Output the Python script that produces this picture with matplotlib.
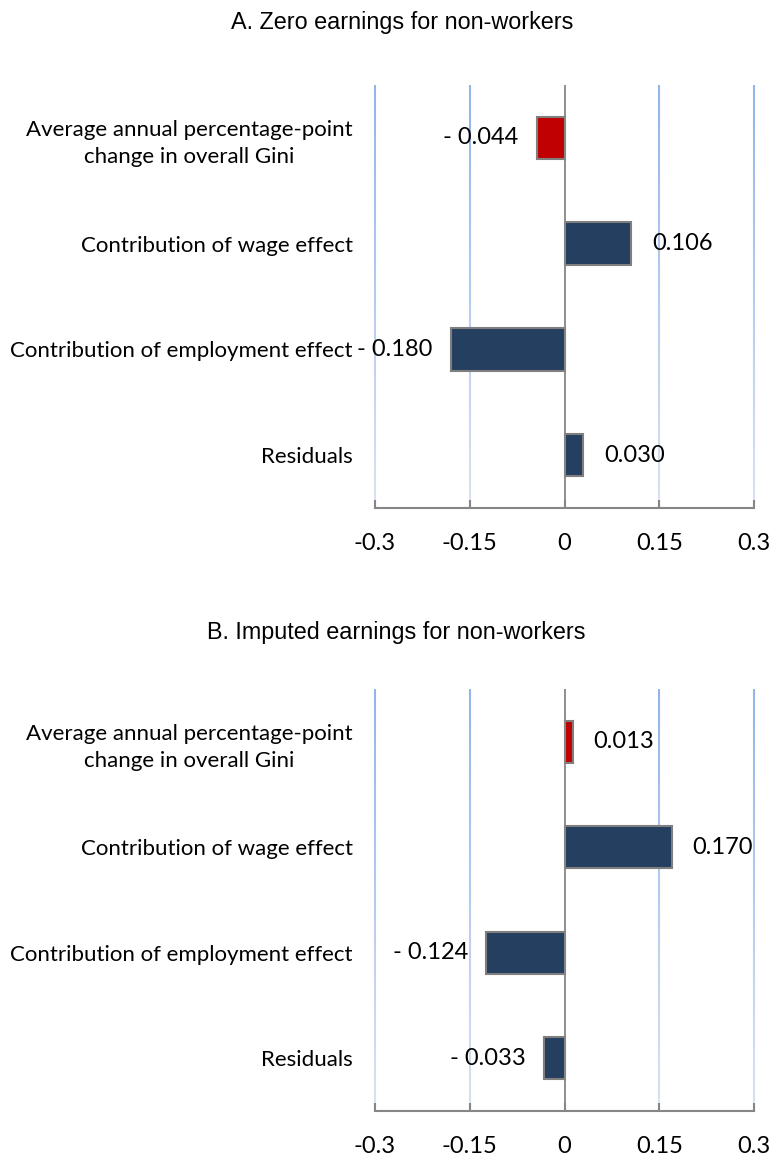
import matplotlib.pyplot as plt
from matplotlib.colors import to_rgb
import numpy as np

# data
categories = ["Average annual percentage-point\nchange in overall Gini",
              "Contribution of wage effect",
              "Contribution of employment effect",
              "Residuals"]
zero_earnings = [-0.044, 0.106, -0.180, 0.030]
imputed_earnings = [0.013, 0.170, -0.124, -0.033]
panel_titles = ["A. Zero earnings for non-workers", "B. Imputed earnings for non-workers"]
xticks = [-0.3, -0.15, 0, 0.15, 0.3]
xtick_labels = ["-0.3", "-0.15", "0", "0.15", "0.3"]

NAVY = "#253f60"
RED = "#c00000"
EDGE = "#7f7f7f"
AXIS = "#868686"
GRID_TOP = "#93b5e8"
GRID_BOT = "#d9e3f3"
LABEL_FONT = ["Lato", "DejaVu Sans"]
TITLE_FONT = ["Liberation Sans", "DejaVu Sans"]


def fmt(v):
    # Excel-ish format with a space after the minus
    return ("- %.3f" % abs(v)) if v < 0 else "%.3f" % v


def draw_panel(ax, values):
    n = len(categories)
    y = np.arange(n)
    colors = [RED] + [NAVY] * (n - 1)
    ax.barh(y, values, height=0.4, color=colors, edgecolor=EDGE, linewidth=1.5, zorder=3)
    ax.set_ylim(n - 0.5, -0.5)
    ax.set_xlim(-0.3, 0.3)

    # gradient gridlines (blue at top, paler towards bottom)
    c0, c1 = np.array(to_rgb(GRID_TOP)), np.array(to_rgb(GRID_BOT))
    steps = 40
    for gx in xticks:
        if gx == 0:
            continue
        for i in range(steps):
            t = i / steps
            col = c0 + (c1 - c0) * t
            ax.plot([gx, gx], [1 - t, 1 - (i + 1) / steps], color=col, lw=1.5,
                    transform=ax.get_xaxis_transform(), zorder=1,
                    solid_capstyle="butt", clip_on=False)

    # zero axis line
    ax.axvline(0, color=AXIS, lw=1.3, zorder=4)

    for s in ["top", "right", "left"]:
        ax.spines[s].set_visible(False)
    ax.spines["bottom"].set_color(AXIS)
    ax.spines["bottom"].set_linewidth(1.5)
    ax.spines["bottom"].set_zorder(5)

    ax.set_xticks(xticks)
    ax.set_xticklabels(xtick_labels, fontsize=17, family=LABEL_FONT)
    ax.tick_params(axis="x", direction="in", length=6, width=1.5, color=AXIS, pad=18)
    ax.set_yticks(y)
    ax.set_yticklabels(categories, fontsize=16, family=LABEL_FONT,
                       multialignment="center", linespacing=1.45)
    ax.tick_params(axis="y", length=0, pad=16)

    for yi, v in zip(y, values):
        if v >= 0:
            ax.annotate(fmt(v), (v, yi), xytext=(15, 0), textcoords="offset points",
                        ha="left", va="center", fontsize=17, family=LABEL_FONT, zorder=6)
        else:
            ax.annotate(fmt(v), (v, yi), xytext=(-13, 0), textcoords="offset points",
                        ha="right", va="center", fontsize=17, family=LABEL_FONT, zorder=6)


fig = plt.figure(figsize=(7.72, 11.57), dpi=100)
W, H = 772, 1157
ax_a = fig.add_axes([375 / W, 1 - 508 / H, 379 / W, 423 / H])
ax_b = fig.add_axes([375 / W, 1 - 1111 / H, 379 / W, 422 / H])

draw_panel(ax_a, zero_earnings)
draw_panel(ax_b, imputed_earnings)

fig.text(402 / W, 1 - 22 / H, panel_titles[0], ha="center", va="center", fontsize=16.8, family=TITLE_FONT)
fig.text(396 / W, 1 - 632 / H, panel_titles[1], ha="center", va="center", fontsize=16.8, family=TITLE_FONT)

fig.savefig("out.png", dpi=100, facecolor="white")
